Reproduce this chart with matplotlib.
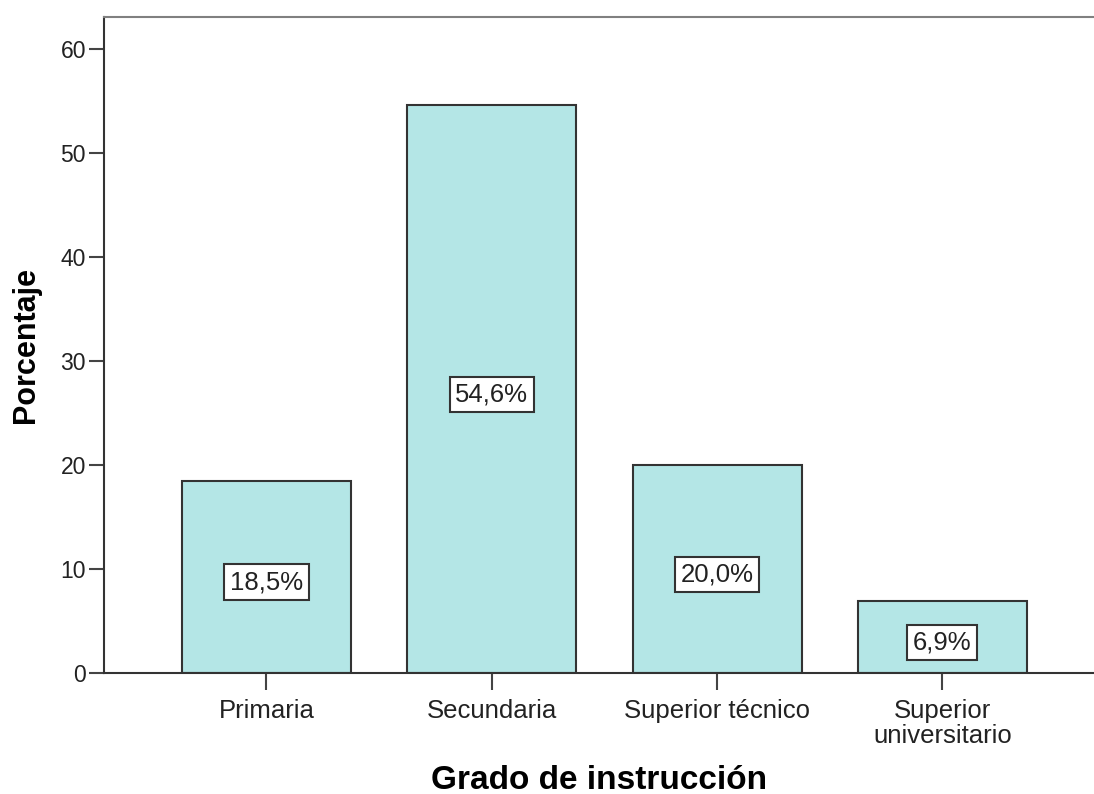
import matplotlib
matplotlib.use("Agg")
import matplotlib.pyplot as plt

categorias = ["Primaria", "Secundaria", "Superior técnico", "Superior\nuniversitario"]
porcentajes = [18.5, 54.6, 20.0, 6.9]
etiquetas = ["18,5%", "54,6%", "20,0%", "6,9%"]
yticks = [0, 10, 20, 30, 40, 50, 60]

plt.rcParams['font.family'] = ['Liberation Sans', 'DejaVu Sans']

fig = plt.figure(figsize=(10.94, 7.94), dpi=100)
ax = fig.add_axes([0.0951, 0.1524, 0.9049, 0.8262])

pos = list(range(len(categorias)))
ax.bar(pos, porcentajes, width=0.75, color="#b4e6e6", edgecolor="#333333", linewidth=1.5, zorder=2)

for x, v, t in zip(pos, porcentajes, etiquetas):
    ax.text(x, v / 2 - 0.5, t, ha="center", va="center", fontsize=18.5, color="#222222", zorder=3,
            bbox=dict(boxstyle="square,pad=0.22", facecolor="white", edgecolor="#333333", linewidth=1.5))

ax.set_xlim(-0.721, 3.673)
ax.set_ylim(0, 63.1)
ax.set_xticks(pos)
ax.set_xticklabels(categorias, fontsize=18.5, color="#222222", linespacing=1.05)
ax.set_yticks(yticks)
ax.set_yticklabels([str(y) for y in yticks], fontsize=16.5, color="#222222")

ax.tick_params(axis="x", direction="out", length=12, width=1.5, color="#444444", pad=7)
ax.tick_params(axis="y", direction="out", length=11, width=1.5, color="#444444", pad=2)

ax.spines["right"].set_visible(False)
ax.spines["left"].set_color("#333333")
ax.spines["bottom"].set_color("#333333")
ax.spines["top"].set_color("#808080")
for s in ["left", "bottom", "top"]:
    ax.spines[s].set_linewidth(1.5)

ax.set_xlabel("Grado de instrucción", fontsize=24, fontweight="bold", labelpad=12)
ax.set_ylabel("Porcentaje", fontsize=22, fontweight="bold", labelpad=14)

fig.savefig("out.png", dpi=100)
